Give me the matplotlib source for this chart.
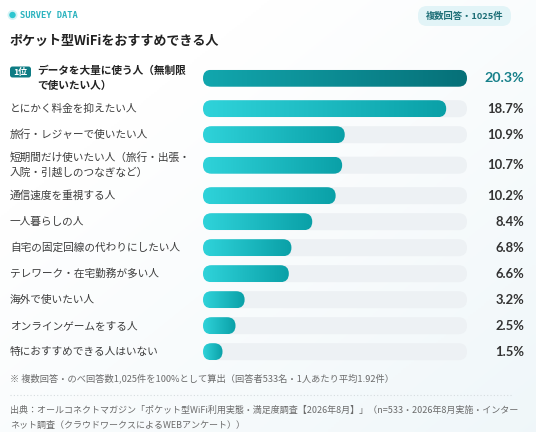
import numpy as np
import matplotlib
matplotlib.use('Agg')
import matplotlib.pyplot as plt
from matplotlib.patches import FancyBboxPatch, Circle
from matplotlib.colors import LinearSegmentedColormap

plt.rcParams['font.family'] = ['Noto Sans CJK JP', 'DejaVu Sans']

# ---------------- data ----------------
categories = [
    "データを大量に使う人（無制限\nで使いたい人）",
    "とにかく料金を抑えたい人",
    "旅行・レジャーで使いたい人",
    "短期間だけ使いたい人（旅行・出張・\n入院・引越しのつなぎなど）",
    "通信速度を重視する人",
    "一人暮らしの人",
    "自宅の固定回線の代わりにしたい人",
    "テレワーク・在宅勤務が多い人",
    "海外で使いたい人",
    "オンラインゲームをする人",
    "特におすすめできる人はいない",
]
values = [20.3, 18.7, 10.9, 10.7, 10.2, 8.4, 6.8, 6.6, 3.2, 2.5, 1.5]
value_labels = ["20.3%", "18.7%", "10.9%", "10.7%", "10.2%", "8.4%",
                "6.8%", "6.6%", "3.2%", "2.5%", "1.5%"]
rank_label = "1位"
header_label = "SURVEY DATA"
badge_label = "複数回答・1025件"
title = "ポケット型WiFiをおすすめできる人"
footnote = "※ 複数回答・のべ回答数1,025件を100%として算出（回答者533名・1人あたり平均1.92件）"
source_lines = [
    "出典：オールコネクトマガジン「ポケット型WiFi利用実態・満足度調査【2026年8月】」（n=533・2026年8月実施・インター",
    "ネット調査（クラウドワークスによるWEBアンケート））",
]

# ---------------- layout ----------------
W, H = 536, 432
BAR_L, BAR_R = 203, 467
BAR_H = 17
ROW_TOP = 60.7
ROW_H1, ROW_H2 = 26, 35
LINE_GAP = 15

fig = plt.figure(figsize=(W / 100, H / 100), dpi=100)

# background gradient
ax_bg = fig.add_axes([0, 0, 1, 1])
ax_bg.set_axis_off()
gx, gy = np.meshgrid(np.linspace(0, 1, 200), np.linspace(0, 1, 200))
g = np.clip((gx * 0.6 + gy * 0.6) - 0.3, 0, 1)
bg_cmap = LinearSegmentedColormap.from_list("bg", ["#ffffff", "#eef6f9"])
ax_bg.imshow(g, cmap=bg_cmap, extent=[0, 1, 0, 1], aspect='auto',
             origin='upper', vmin=0, vmax=1)
ax_bg.set_xlim(0, 1)
ax_bg.set_ylim(0, 1)

# text / decoration axes in pixel coordinates
ax = fig.add_axes([0, 0, 1, 1])
ax.set_xlim(0, W)
ax.set_ylim(H, 0)
ax.set_axis_off()
ax.patch.set_alpha(0)

# bar axes: x in percent, y in pixels
xmax = max(values)
axb = fig.add_axes([BAR_L / W, 0, (BAR_R - BAR_L) / W, 1])
axb.set_axis_off()
axb.patch.set_alpha(0)
px_per_unit = (BAR_R - BAR_L) / xmax
rad_x = (BAR_H / 2) / px_per_unit

cmap_top = LinearSegmentedColormap.from_list("top", ["#12a7ae", "#067078"])
cmap_rest = LinearSegmentedColormap.from_list("rest", ["#2fd3da", "#0aa0a7"])
grad = np.linspace(0, 1, 256).reshape(1, -1)

centers = []
top = ROW_TOP
for lab in categories:
    h = ROW_H2 if "\n" in lab else ROW_H1
    centers.append(top + h / 2)
    top += h

for i, (lab, v, vl, c) in enumerate(zip(categories, values, value_labels, centers)):
    # track
    track = FancyBboxPatch((0, c - BAR_H / 2), xmax, BAR_H,
                           boxstyle=f"round,pad=0,rounding_size={rad_x}",
                           mutation_aspect=px_per_unit,
                           facecolor="#edf1f4", edgecolor="none", zorder=1)
    axb.add_patch(track)
    # bar with gradient
    clip = FancyBboxPatch((0, c - BAR_H / 2), v, BAR_H,
                          boxstyle=f"round,pad=0,rounding_size={rad_x}",
                          mutation_aspect=px_per_unit,
                          facecolor="none", edgecolor="none", zorder=2)
    axb.add_patch(clip)
    im = axb.imshow(grad, cmap=cmap_top if i == 0 else cmap_rest,
                    extent=[0, v, c + BAR_H / 2, c - BAR_H / 2],
                    aspect='auto', interpolation='bilinear', zorder=2)
    im.set_clip_path(clip)

    # labels
    lines = lab.split("\n")
    n = len(lines)
    if i == 0:
        tx = 37
        badge = FancyBboxPatch((10, 66.5), 21, 11,
                               boxstyle="round,pad=0,rounding_size=2.5",
                               facecolor="#0e7c84", edgecolor="none", zorder=3)
        ax.add_patch(badge)
        ax.text(20.5, 72, rank_label, color="white", fontsize=6.4,
                fontweight='bold', ha='center', va='center', zorder=4)
    else:
        tx = 10
    for j, ln in enumerate(lines):
        ly = c - (n - 1) / 2 * LINE_GAP + j * LINE_GAP
        ax.text(tx, ly, ln, fontsize=7.7,
                color="#222222" if i == 0 else "#3d3d3d",
                fontweight='bold' if i == 0 else 'normal',
                ha='left', va='center')
    # value text
    ax.text(524, c, vl, ha='right', va='center',
            fontsize=10.3 if i == 0 else 9.4, fontweight='bold',
            family=['Lato', 'DejaVu Sans'],
            color="#17808a" if i == 0 else "#333333")

axb.set_xlim(0, xmax)
axb.set_ylim(H, 0)

# header
ax.add_patch(Circle((12.5, 15), 5, facecolor="#2cc6d0", alpha=0.2,
                    edgecolor="none"))
ax.add_patch(Circle((12.5, 15), 3.2, facecolor="#2cc6d0", edgecolor="none"))
ax.text(20, 15.5, header_label, fontsize=6.3, fontweight='bold',
        family=['DejaVu Sans Mono'], color="#2bb3bf", ha='left', va='center')

badge_bg = FancyBboxPatch((418, 6), 93, 20,
                          boxstyle="round,pad=0,rounding_size=9",
                          facecolor="#e2f4f7", edgecolor="none")
ax.add_patch(badge_bg)
ax.text(464.5, 16, badge_label, fontsize=6.7, fontweight='bold',
        color="#1c6e76", ha='center', va='center')

ax.text(10, 41, title, fontsize=9.4, fontweight='bold', color="#222222",
        ha='left', va='center')

# footnote
ax.text(10, 378, footnote, fontsize=6.65, color="#6b6b6b",
        ha='left', va='center')
ax.plot([10, 512], [395, 395], color="#d6dcdf", linewidth=0.8,
        linestyle=(0, (1, 2)))
for k, sl in enumerate(source_lines):
    ax.text(10, 410 + k * 15, sl, fontsize=6.5, color="#6b6b6b",
            ha='left', va='center')

fig.savefig("out.png", dpi=100)
